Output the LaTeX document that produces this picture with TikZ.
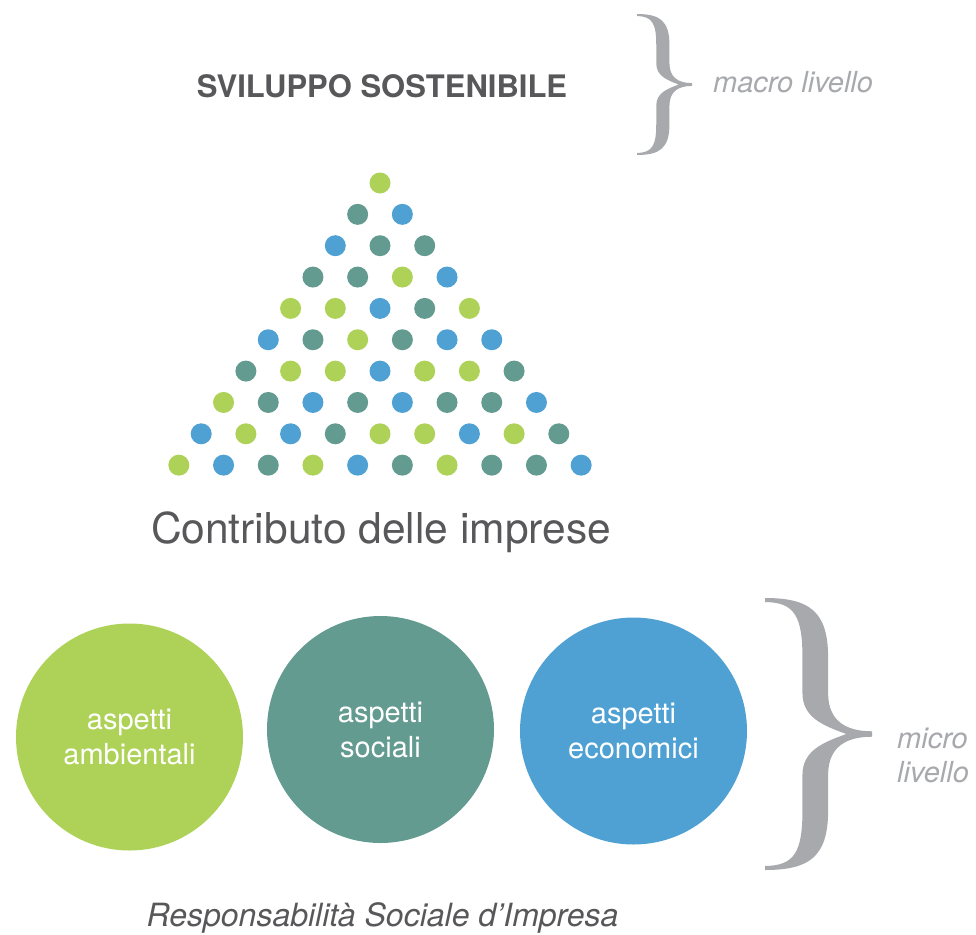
\documentclass[tikz,border=0pt]{standalone}
\usepackage{fontspec}
\setmainfont{TeX Gyre Heros}
\definecolor{verde}{HTML}{ADD257}
\definecolor{petrolio}{HTML}{649B91}
\definecolor{azzurro}{HTML}{4FA1D3}
\definecolor{testo}{HTML}{58585A}
\definecolor{grigio}{HTML}{A7A9AC}
\colorlet{V}{verde}
\colorlet{P}{petrolio}
\colorlet{A}{azzurro}
\tikzset{
	pallino/.style={circle,inner sep=0pt,minimum size=21pt},
	cerchio/.style={circle,inner sep=0pt,minimum size=227pt,text=white,align=center,font=\fontsize{29}{35}\selectfont},
	titolo/.style={text=testo,inner sep=0pt,anchor=base},
	livello/.style={text=grigio,inner sep=0pt,align=left,font=\fontsize{29}{34}\selectfont\itshape},
	pics/graffa/.style={code={
		\fill[grigio] (0,0) .. controls (0.42,0) and (0.59,0.05) .. (0.59,0.22) -- (0.59,0.35) .. controls (0.59,0.45) and (0.75,0.49) .. (1,0.49) -- (1,0.51) .. controls (0.75,0.51) and (0.59,0.55) .. (0.59,0.65) -- (0.59,0.78) .. controls (0.59,0.95) and (0.42,1) .. (0,1) -- (0,0.985) .. controls (0.28,0.985) and (0.35,0.93) .. (0.35,0.78) -- (0.35,0.65) .. controls (0.35,0.56) and (0.55,0.53) .. (0.76,0.5) .. controls (0.55,0.47) and (0.35,0.44) .. (0.35,0.35) -- (0.35,0.22) .. controls (0.35,0.07) and (0.28,0.015) .. (0,0.015) -- cycle;
	}}
}
\begin{document}
\begin{tikzpicture}[x=1pt,y=-1pt]
		\useasboundingbox (0,0) rectangle (976,934);
		\node[titolo,font=\fontsize{31}{37}\selectfont\bfseries] (svil) at (382,97) {SVILUPPO SOSTENIBILE};
		\pic[xscale=55,yscale=141] at (637,14) {graffa};
		\node[livello,anchor=base west] (macro) at (713,92) {macro livello};
		\foreach \r/\lista in {1/{V},2/{P,A},3/{A,P,P},4/{P,P,V,A},5/{V,V,A,P,V},6/{A,P,V,P,A,A},7/{P,V,V,A,V,V,P},8/{V,P,A,P,A,P,P,A},9/{A,V,A,P,V,V,A,V,P},10/{V,A,P,V,A,P,V,P,P,A}}
			\foreach \c [count=\j] in \lista
				\node[pallino,fill=\c] (d-\r-\j) at ({380+(\j-(\r+1)/2)*44.7},{183+(\r-1)*31.35}) {};
		\node[titolo,font=\fontsize{42.5}{50}\selectfont] (contr) at (381,543) {Contributo delle imprese};
		\node[cerchio,fill=verde] (amb) at (129.5,737) {aspetti\\ambientali};
		\node[cerchio,fill=petrolio] (soc) at (380.5,729.5) {aspetti\\sociali};
		\node[cerchio,fill=azzurro] (eco) at (633.5,731) {aspetti\\economici};
		\pic[xscale=107,yscale=272] at (765,598) {graffa};
		\node[livello,anchor=west] (micro) at (897,755) {micro\\livello};
		\node[titolo,font=\fontsize{32}{38}\selectfont\itshape] (rsi) at (382.5,926) {Responsabilità Sociale d’Impresa};
	\end{tikzpicture}
\end{document}
